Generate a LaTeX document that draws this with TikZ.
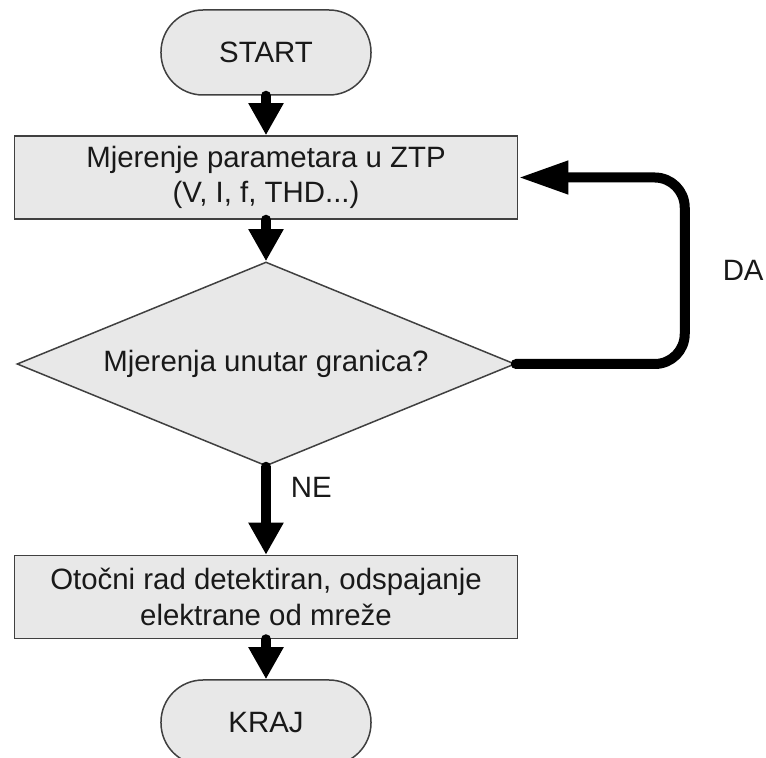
\documentclass[tikz,border=0pt]{standalone}
\usepackage{fontspec}
\setmainfont{Liberation Sans}
\usetikzlibrary{shapes.geometric, arrows.meta}
\definecolor{boxgray}{RGB}{232,232,232}
\definecolor{edgegray}{RGB}{64,64,64}
\tikzstyle{startstop} = [rectangle, rounded corners=21pt, minimum width=105pt, minimum height=42.5pt, text centered, draw=edgegray, line width=0.75pt, fill=boxgray, align=center]
\tikzstyle{process} = [rectangle, minimum width=251.5pt, minimum height=41.5pt, text centered, draw=edgegray, line width=0.75pt, fill=boxgray, align=center]
\tikzstyle{decision} = [diamond, minimum width=249pt, minimum height=102pt, aspect=2.44, inner sep=0pt, text centered, draw=edgegray, line width=0.75pt, fill=boxgray, align=center]
\tikzstyle{arrow} = [line width=5pt, line cap=round, -{Triangle[length=16pt,width=16.5pt]}]
\tikzstyle{looparrow} = [line width=5pt, line cap=round, rounded corners=15pt, -{Triangle[length=25pt,width=15.5pt]}]
\tikzstyle{label} = [anchor=west, inner sep=0pt]

\begin{document}
\begin{tikzpicture}[node distance=62.5pt, font=\fontsize{14.7}{17.6}\selectfont, text=black!90]
\useasboundingbox (-133pt,-352.75pt) rectangle (250pt,26.25pt);

\node (start) [startstop] {START};
\node (measure) [process, below of=start] {Mjerenje parametara u ZTP\\(V, I, f, THD...)};
\node (check) [decision, node distance=93.25pt, below of=measure] {Mjerenja unutar granica?};
\node (disconnect) [process, node distance=116.5pt, below of=check] {Otočni rad detektiran, odspajanje\\elektrane od mreže};
\node (kraj) [startstop, node distance=62.75pt, below of=disconnect] {KRAJ};

\draw [arrow] (start) -- (measure);
\draw [arrow] (measure) -- (check);
\draw [looparrow] (check.east) -- ++(84.5pt,0) |- node[label, pos=0.25, xshift=16.5pt] {DA} (measure.east);
\draw [arrow] (check) -- node[label, pos=0.24, xshift=10pt] {NE} (disconnect);
\draw [arrow] (disconnect) -- (kraj);

\end{tikzpicture}
\end{document}
